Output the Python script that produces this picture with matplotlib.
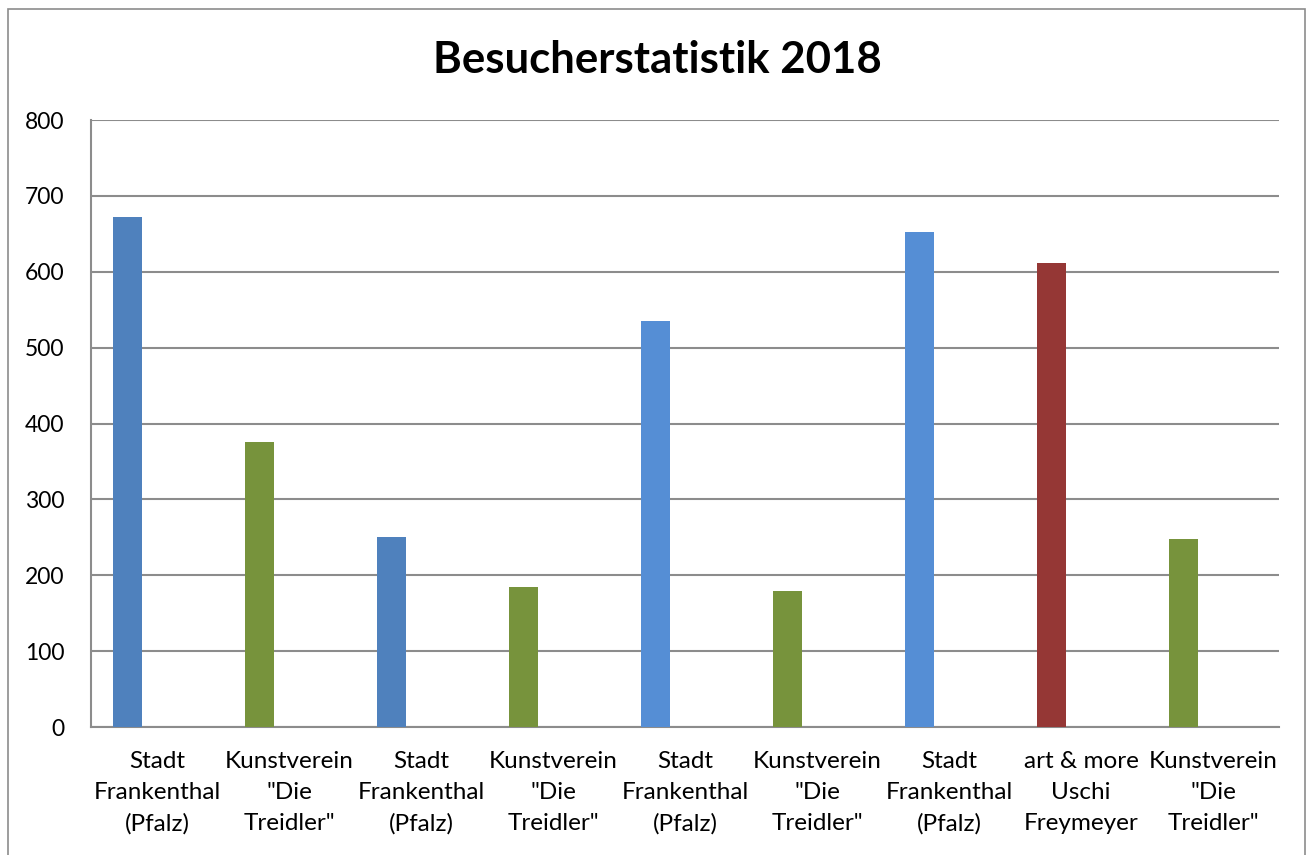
import numpy as np
import matplotlib.pyplot as plt
from matplotlib.patches import Rectangle

plt.rcParams['font.family'] = ['Lato', 'DejaVu Sans']

categories = ['Stadt\nFrankenthal\n(Pfalz)', 'Kunstverein\n"Die\nTreidler"',
              'Stadt\nFrankenthal\n(Pfalz)', 'Kunstverein\n"Die\nTreidler"',
              'Stadt\nFrankenthal\n(Pfalz)', 'Kunstverein\n"Die\nTreidler"',
              'Stadt\nFrankenthal\n(Pfalz)', 'art & more\nUschi\nFreymeyer',
              'Kunstverein\n"Die\nTreidler"']
visitors = [672, 376, 251, 184, 535, 179, 653, 611, 248]
colors = ['#4F81BD', '#77933C', '#4F81BD', '#77933C', '#558ED5',
          '#77933C', '#558ED5', '#953735', '#77933C']

fig = plt.figure(figsize=(13.14, 8.55), dpi=100)
ax = fig.add_axes([0.0693, 0.1497, 0.9041, 0.7099])

x = np.arange(len(categories))
ax.bar(x - 0.225, visitors, width=0.22, color=colors, zorder=3)

ax.set_xlim(-0.5, len(categories) - 0.5)
ax.set_ylim(0, 800)
ax.set_yticks(range(0, 801, 100))
ax.yaxis.grid(True, color='#8C8C8C', linewidth=1.5, zorder=0)
ax.set_xticks(x)
ax.set_xticklabels(categories, fontsize=17.5, linespacing=1.6)
ax.tick_params(axis='y', labelsize=16.5)
ax.tick_params(axis='both', length=0, colors='black')
ax.tick_params(axis='x', pad=17)
ax.tick_params(axis='y', pad=19)
for s in ['top', 'right']:
    ax.spines[s].set_visible(False)
for s in ['left', 'bottom']:
    ax.spines[s].set_color('#8C8C8C')
    ax.spines[s].set_linewidth(1.5)

fig.text(0.5, 0.93, 'Besucherstatistik 2018', ha='center', va='center',
         fontsize=31.5, fontweight='bold')

fig.patches.append(Rectangle((0.006, -0.01), 0.987, 1.0, transform=fig.transFigure,
                             fill=False, edgecolor='#8C8C8C', linewidth=1.2))

fig.savefig('out.png', dpi=100)
